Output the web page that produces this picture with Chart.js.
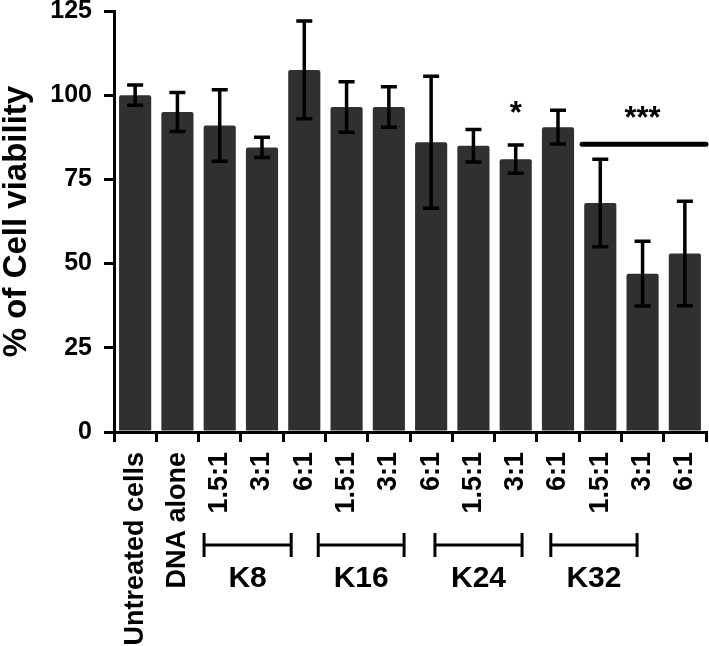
<!DOCTYPE html>
<html>
<head>
<meta charset="utf-8">
<title>Cell viability</title>
<script src="https://cdn.jsdelivr.net/npm/chart.js@4.4.1/dist/chart.umd.min.js"></script>
<style>
  html, body { margin: 0; padding: 0; background: #fff; }
  canvas { display: block; }
</style>
</head>
<body>
<canvas id="viabilityChart" width="709" height="646"></canvas>
<script>
// Data
const categories = ['Untreated cells', 'DNA alone', '1.5:1', '3:1', '6:1', '1.5:1', '3:1', '6:1', '1.5:1', '3:1', '6:1', '1.5:1', '3:1', '6:1'];
const viability = [100, 95, 91, 84.5, 107.5, 96.5, 96.5, 86, 85, 81, 90.5, 68, 47, 53];
const errors = [3, 5.8, 10.6, 3, 14.5, 7.5, 6, 19.6, 4.8, 4.2, 5, 13, 9.6, 15.5];
const yTicks = [0, 25, 50, 75, 100, 125];

// Group brackets under the axis (in category units)
const groupNames = ['K8', 'K16', 'K24', 'K32'];
const groupSpans = [[1.63, 3.69], [4.33, 6.36], [7.09, 9.15], [9.83, 11.87]];

// Significance marks (category position, value)
const sigLabels = ['*', '***'];
const sigPositions = [[9, 96], [12, 94.5]];
const sigLine = [10.57, 13.5, 85.4];

const FONT = '"Liberation Sans", Arial, Helvetica, sans-serif';

const annotate = {
    id: 'annotate',
    afterDatasetsDraw(chart) {
        const ctx = chart.ctx;
        const x = chart.scales.x;
        const y = chart.scales.y;
        ctx.save();
        ctx.strokeStyle = '#000';
        ctx.lineWidth = 3.5;
        // error bars
        viability.forEach(function(v, i) {
            const px = x.getPixelForValue(i);
            const top = y.getPixelForValue(v + errors[i]);
            const bot = y.getPixelForValue(v - errors[i]);
            ctx.beginPath();
            ctx.moveTo(px, top); ctx.lineTo(px, bot);
            ctx.moveTo(px - 8, top); ctx.lineTo(px + 8, top);
            ctx.moveTo(px - 8, bot); ctx.lineTo(px + 8, bot);
            ctx.stroke();
        });
        // significance line + stars
        ctx.lineWidth = 5;
        ctx.lineCap = 'round';
        ctx.beginPath();
        ctx.moveTo(x.getPixelForValue(sigLine[0]), y.getPixelForValue(sigLine[2]));
        ctx.lineTo(x.getPixelForValue(sigLine[1]), y.getPixelForValue(sigLine[2]));
        ctx.stroke();
        ctx.fillStyle = '#000';
        ctx.font = 'bold 31px ' + FONT;
        ctx.textAlign = 'center';
        ctx.textBaseline = 'middle';
        sigLabels.forEach(function(s, i) {
            ctx.fillText(s, x.getPixelForValue(sigPositions[i][0]), y.getPixelForValue(sigPositions[i][1]) + 6);
        });
        ctx.restore();
    },
    afterDraw(chart) {
        const ctx = chart.ctx;
        const x = chart.scales.x;
        const base = chart.chartArea.bottom;
        ctx.save();
        ctx.strokeStyle = '#000';
        ctx.fillStyle = '#000';
        ctx.lineWidth = 3;
        ctx.font = 'bold 30px ' + FONT;
        ctx.textAlign = 'center';
        ctx.textBaseline = 'middle';
        groupSpans.forEach(function(span, i) {
            const x0 = x.getPixelForValue(span[0]);
            const x1 = x.getPixelForValue(span[1]);
            const yb = base + 113;
            ctx.beginPath();
            ctx.moveTo(x0, yb); ctx.lineTo(x1, yb);
            ctx.moveTo(x0, yb - 12); ctx.lineTo(x0, yb + 12);
            ctx.moveTo(x1, yb - 12); ctx.lineTo(x1, yb + 12);
            ctx.stroke();
            ctx.fillText(groupNames[i], (x0 + x1) / 2, base + 147);
        });
        ctx.restore();
    }
};

const ctx = document.getElementById('viabilityChart').getContext('2d');
new Chart(ctx, {
    type: 'bar',
    data: {
        labels: categories,
        datasets: [{
            data: viability,
            backgroundColor: '#303030',
            borderRadius: 2,
            borderSkipped: 'bottom',
            barPercentage: 0.76,
            categoryPercentage: 1
        }]
    },
    options: {
        responsive: false,
        animation: false,
        devicePixelRatio: 1,
        layout: { padding: { top: 11, right: 3, left: 0, bottom: 0 } },
        plugins: { legend: { display: false }, tooltip: { enabled: false } },
        scales: {
            x: {
                grid: { drawOnChartArea: false, drawTicks: true, tickLength: 10, color: '#000', lineWidth: 3 },
                border: { color: '#000', width: 3 },
                ticks: {
                    autoSkip: false,
                    maxRotation: 90,
                    minRotation: 90,
                    padding: 10,
                    color: '#000',
                    font: { family: FONT, size: 27, weight: 'bold' }
                },
                afterFit: function(scale) {
                    scale.height = 214;
                    scale.paddingLeft = 0;
                    scale.paddingRight = 0;
                }
            },
            y: {
                min: 0,
                max: 125,
                grid: { drawOnChartArea: false, drawTicks: true, tickLength: 10, color: '#000', lineWidth: 3 },
                border: { color: '#000', width: 3 },
                afterBuildTicks: function(scale) {
                    scale.ticks = yTicks.map(function(v) { return { value: v }; });
                },
                ticks: {
                    padding: 12,
                    color: '#000',
                    font: { family: FONT, size: 25, weight: 'bold' }
                },
                title: {
                    display: true,
                    text: '% of Cell viability',
                    color: '#000',
                    padding: 0,
                    font: { family: FONT, size: 33, weight: 'bold', lineHeight: 1.05 }
                },
                afterFit: function(scale) {
                    scale.width = 114;
                    scale.paddingTop = 0;
                    scale.paddingBottom = 0;
                }
            }
        }
    },
    plugins: [annotate]
});
</script>
</body>
</html>
